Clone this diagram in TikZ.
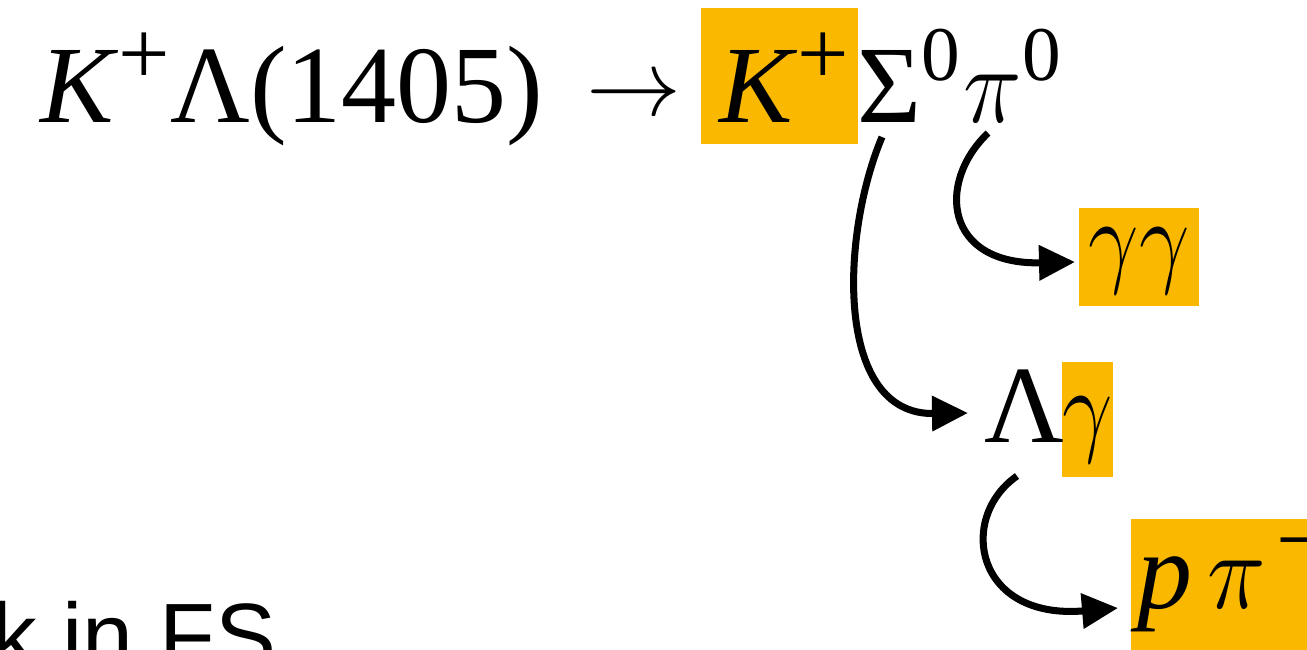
\documentclass[tikz,border=0pt]{standalone}
\usepackage{fix-cm}
\usepackage{fontspec}
\setmainfont{Liberation Serif}
\setsansfont{Liberation Sans}
\usepackage{xcolor}
\usepackage{tikz}
\usetikzlibrary{arrows.meta,positioning,calc}
\definecolor{hlorange}{RGB}{250,185,0}
\newcommand\upp[1]{\raisebox{0.38cm}{\fontsize{26}{26}\selectfont #1}}
\newcommand\zeroup{\raisebox{0.42cm}{\fontsize{22}{22}\selectfont 0}}
\newcommand\gam{\scalebox{0.85}[1]{$\gamma$}}
\newcommand\piq{\scalebox{0.9}[1]{$\pi$}}

\begin{document}
\begin{tikzpicture}[>={Triangle[length=0.36cm,width=0.34cm]},
  txt/.style={inner sep=0pt,anchor=base west,font=\fontsize{31.3}{36}\selectfont},
  hl/.style={fill=hlorange,inner sep=0pt,anchor=north west},
  conn/.style={->,line width=2pt}]
\useasboundingbox (0,0) rectangle (13.07,-6.49);
\clip (0,0) rectangle (13.07,-6.49);
% highlights
\node[hl,minimum width=1.57cm,minimum height=1.36cm](kbox) at (7.00,-0.07){};
\node[hl,minimum width=1.20cm,minimum height=0.98cm](ggbox) at (10.78,-2.07){};
\node[hl,minimum width=0.51cm,minimum height=1.15cm](gbox) at (10.61,-3.61){};
\node[hl,minimum width=2.00cm,minimum height=1.50cm](ppbox) at (11.30,-5.18){};
% decay chain
\node[txt](init) at (0.40,-1.22){\textit{K}\upp{+}Λ(1405)};
\node[txt,font=\fontsize{27}{27}\selectfont](arr) at (5.86,-1.15){$\rightarrow$};
\node[txt](kp) at (7.19,-1.22){\textit{K}\upp{+}};
\node[txt](sig) at (8.57,-1.22){Σ\zeroup};
\node[txt](pi) at (9.63,-1.22){\piq\zeroup};
\node[txt,font=\fontsize{30}{32}\selectfont](gg) at (10.88,-2.73){\gam\gam};
\node[txt](lam) at (9.84,-4.42){Λ};
\node[txt,font=\fontsize{30}{32}\selectfont](g) at (10.62,-4.42){\gam};
\node[txt](ppi) at (11.37,-6.08){\textit{p}\hspace{0.15cm}\piq\hspace{0.1cm}\upp{−}};
\node[txt,font=\sffamily\fontsize{26}{30}\selectfont](fs) at (-0.09,-6.67){k in FS};
% arrows
\draw[conn]([shift={(0.25,-0.15)}]sig.base west) .. controls +(-0.42,-1.0) and +(-1.33,-0.02) .. ([xshift=-0.16cm,yshift=0.29cm]lam.base west);
\draw[conn]([shift={(0.25,-0.11)}]pi.base west) .. controls +(-0.52,-0.5) and +(-1.30,-0.03) .. ([xshift=-0.13cm,yshift=0.11cm]gg.base west);
\draw[conn]([shift={(0.33,-0.34)}]lam.base west) .. controls +(-0.60,-0.42) and +(-1.43,-0.12) .. ([xshift=-0.19cm]ppi.base west);
\end{tikzpicture}
\end{document}
